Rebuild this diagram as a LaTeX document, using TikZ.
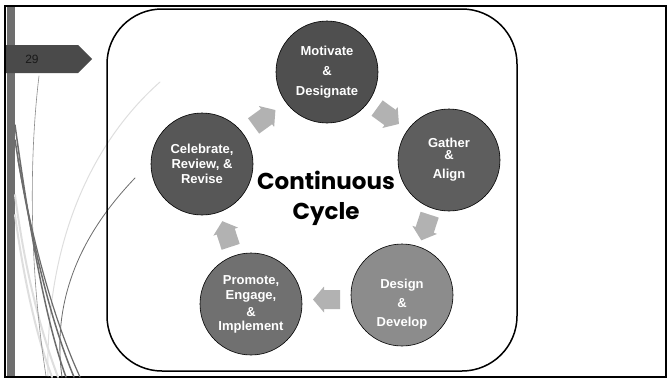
\documentclass[tikz,border=0pt]{standalone}
\usepackage{fontspec}
\setmainfont{Liberation Sans}
\newfontfamily\cyclefont{Poppins}
\usepackage{tikz}
\usetikzlibrary{
    calc,            % Required for the midpoints between the steps
    positioning
}

\definecolor{barshade}{HTML}{6E6E6E}
\definecolor{tabshade}{HTML}{4A4A4A}
\definecolor{arrowgray}{HTML}{B2B2B2}
\definecolor{wispdark}{HTML}{6C6C6C}
\definecolor{wispmid}{HTML}{8A8A8A}
\definecolor{wisplight}{HTML}{DEDEDE}

\tikzset{
    stepcircle/.style={circle, draw=black, line width=0.6pt, minimum size=102pt, inner sep=0pt},
    steptext/.style={text=white, font=\fontsize{13}{15}\selectfont\bfseries, align=center, inner sep=0pt},
    % block arrow, pointing along +x, centred on the pic's origin
    cyclearrow/.pic={
        \fill[arrowgray] (-13.5,-9.5) -- (2.5,-9.5) -- (2.5,-13) -- (13.5,0)
            -- (2.5,13) -- (2.5,9.5) -- (-13.5,9.5) -- cycle;
    },
    wisp/.style={line cap=round}
}

\begin{document}
\begin{tikzpicture}[x=1pt, y=-1pt]
    \useasboundingbox (0,0) rectangle (668,380);

    % Slide frame and side bar
    \fill[barshade] (7,7) rectangle (15,376);
    \draw[line width=2.5pt] (5,6) rectangle (666,377);

    % Wisps down the left side
    \draw[wisp, wisplight, line width=2pt] (15,195) .. controls (25,270) and (40,330) .. (58,377);
    \draw[wisp, wisplight, line width=2pt] (15,215) .. controls (24,280) and (36,335) .. (52,377);
    \draw[wisp, wisplight, line width=1pt] (160,82) .. controls (100,135) and (45,230) .. (48,376);
    \draw[wisp, wispmid, line width=0.6pt] (39,76) .. controls (30,150) and (28,260) .. (46,376);
    \draw[wisp, wispdark, line width=1.5pt] (15,125) .. controls (28,220) and (45,320) .. (66,377);
    \draw[wisp, wispdark, line width=1.5pt] (15,140) .. controls (30,235) and (50,320) .. (74,377);
    \draw[wisp, wispdark, line width=1.2pt] (18,160) .. controls (34,250) and (56,325) .. (80,377);
    \draw[wisp, wispdark, line width=0.8pt] (135,178) .. controls (90,225) and (50,290) .. (62,377);

    % Slide number tab
    \fill[tabshade] (6,45) -- (78,45) -- (92,59) -- (78,73) -- (6,73) -- cycle;
    \node[font=\fontsize{12}{14}\selectfont, text={black!90}] (slidenum) at (32,59) {29};

    % Box round the cycle
    \draw[line width=1.5pt, rounded corners=55pt] (107,9) rectangle (517,371);

    % The five steps
    \node[stepcircle, fill={black!69}] (motivate)  at (327,72)  {};
    \node[stepcircle, fill={black!63}] (gather)    at (449,160) {};
    \node[stepcircle, fill={black!45}] (design)    at (402,295) {};
    \node[stepcircle, fill={black!56}] (promote)   at (251,304) {};
    \node[stepcircle, fill={black!66}] (celebrate) at (202,164) {};

    \node[steptext] (motivatetext)  at (motivate)  {Motivate\\[5pt]\&\\[5pt]Designate};
    \node[steptext] (gathertext)    at (gather)    {Gather\\[-3pt]\&\\[4pt]Align};
    \node[steptext] (designtext)    at ([yshift=-9pt]design) {Design\\[4pt]\&\\[4pt]Develop};
    \node[steptext] (promotetext)   at (promote)   {Promote,\\Engage,\\[2pt]\&\\[-1pt]Implement};
    \node[steptext] (celebratetext) at (celebrate) {Celebrate,\\Review, \&\\Revise};

    % Arrows half way between the steps
    \coordinate (arrowa) at ($(celebrate)!0.5!(motivate)$);
    \coordinate (arrowb) at ($(motivate)!0.5!(gather)$);
    \coordinate (arrowc) at ($(gather)!0.5!(design)$);
    \coordinate (arrowd) at ($(design)!0.5!(promote)$);
    \coordinate (arrowe) at ($(promote)!0.5!(celebrate)$);
    \pic[rotate=36]   at (arrowa) {cyclearrow};
    \pic[rotate=-36]  at (arrowb) {cyclearrow};
    \pic[rotate=-108] at (arrowc) {cyclearrow};
    \pic[rotate=180]  at (arrowd) {cyclearrow};
    \pic[rotate=108]  at (arrowe) {cyclearrow};

    % Title in the middle
    \node[font=\cyclefont\bfseries\fontsize{23}{30}\selectfont, align=center] (title) at (326,198) {Continuous\\Cycle};
\end{tikzpicture}
\end{document}
